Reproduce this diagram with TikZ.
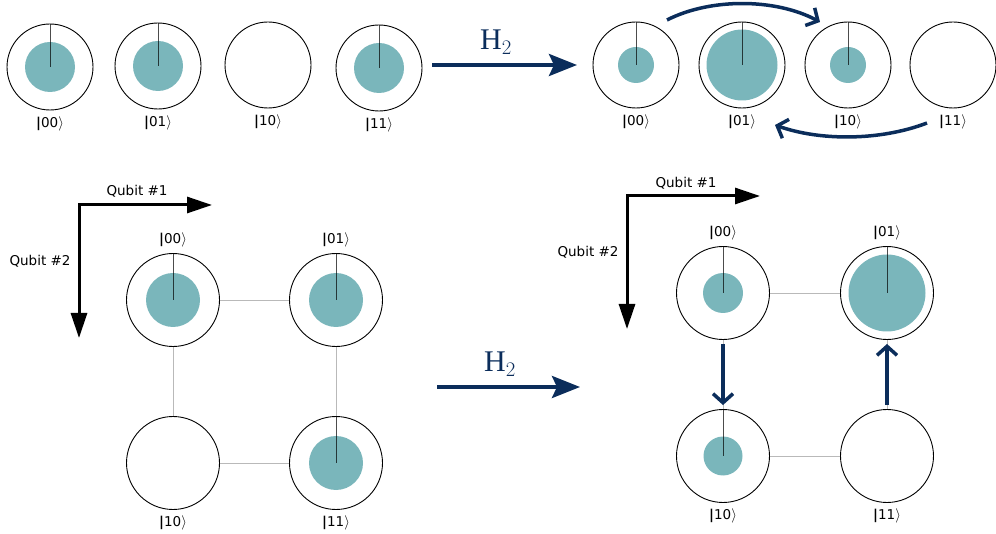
\documentclass[tikz,border=0pt]{standalone}
\usepackage{fontspec}
\setmainfont{DejaVu Sans}
\newfontfamily\gatefont{Liberation Serif}
\usepackage{xcolor}
\usetikzlibrary{arrows.meta, positioning, calc}

\definecolor{ampteal}{HTML}{7AB6BB}
\definecolor{gatenavy}{HTML}{0B2D5B}
\newcommand{\ketlbl}[1]{\textbf{|}#1\ensuremath{\rangle}}

\begin{document}
\begin{tikzpicture}[x=1pt, y=1pt,
    qstate/.style={circle, draw, line width=0.9pt, minimum size=86pt, inner sep=0pt},
    qbig/.style={qstate, minimum size=93pt},
    amp/.style={fill=ampteal},
    needle/.style={black, line width=0.9pt, draw opacity=0.7},
    ket/.style={font=\fontsize{13.5}{16}\selectfont, inner sep=0pt},
    link/.style={gray!55, line width=0.9pt},
    gate/.style={-{Stealth[length=28pt, width=22pt, inset=5pt]}, line width=4pt, gatenavy},
    glbl/.style={font=\gatefont\fontsize{30}{36}\selectfont, gatenavy},
    swap/.style={-{Straight Barb[length=9pt, width=20pt]}, line width=3.5pt, gatenavy},
    axis/.style={{Triangle[length=25pt, width=16pt]}-{Triangle[length=25pt, width=16pt]},
        line width=3pt},
    albl/.style={font=\fontsize{13.5}{16}\selectfont},
]
\useasboundingbox (0,0) rectangle (996,533);

% ---- Top row: before H2 ----
\node[qstate] (tl00) at (50,466) {};
\node[qstate] (tl01) at (158,467) {};
\node[qstate] (tl10) at (268,468) {};
\node[qstate] (tl11) at (379,465) {};
\fill[amp] (tl00.center) circle (25);
\fill[amp] (tl01.center) circle (25);
\fill[amp] (tl11.center) circle (25);
\draw[needle] (tl00.north) -- (tl00.center);
\draw[needle] (tl01.north) -- (tl01.center);
\draw[needle] (tl11.north) -- (tl11.center);
\node[ket, below=6pt of tl00] {\ketlbl{00}};
\node[ket, below=6pt of tl01] {\ketlbl{01}};
\node[ket, below=6pt of tl10] {\ketlbl{10}};
\node[ket, below=6pt of tl11] {\ketlbl{11}};

% gate
\coordinate (ga0) at (432,468);
\coordinate (ga1) at (577,468);
\draw[gate] (ga0) -- (ga1);
\node[glbl] (gl1) at (496,491) {H$_2$};

% ---- Top row: after H2 ----
\node[qstate] (tr00) at (636,468) {};
\node[qstate] (tr01) at (742,468) {};
\node[qstate] (tr10) at (848,468) {};
\node[qstate] (tr11) at (953,468) {};
\fill[amp] (tr00.center) circle (18);
\fill[amp] (tr01.center) circle (35.5);
\fill[amp] (tr10.center) circle (18);
\draw[needle] (tr00.north) -- (tr00.center);
\draw[needle] (tr01.north) -- (tr01.center);
\draw[needle] (tr10.north) -- (tr10.center);
\node[ket, below=6pt of tr00] {\ketlbl{00}};
\node[ket, below=6pt of tr01] {\ketlbl{01}};
\node[ket, below=6pt of tr10] {\ketlbl{10}};
\node[ket, below=6pt of tr11] {\ketlbl{11}};

% swaps between states
\coordinate (swa) at ($(tr00.center)+(31,45)$);
\coordinate (swb) at ($(tr10.center)+(-28,43)$);
\coordinate (swc) at ($(tr11.center)+(-26,-58)$);
\coordinate (swd) at ($(tr01.center)+(33,-60)$);
\draw[swap] (swa) .. controls +(43,22) and +(-45,24) .. (swb);
\draw[swap] (swc) .. controls +(-47,-18) and +(45,-16) .. (swd);

% ---- Bottom left: grid before H2 ----
\coordinate (ax0) at (79,328);
\coordinate (ax1) at (212,328);
\coordinate (ax2) at (79,195);
\draw[axis] (ax1) -- (ax0) -- (ax2);
\node[albl] (qa1) at (137,342) {Qubit \#1};
\node[albl] (qa2) at (40,272) {Qubit \#2};

\node[qbig] (bl00) at (173,233) {};
\node[qbig] (bl01) at (336,233) {};
\node[qbig] (bl10) at (173,70) {};
\node[qbig] (bl11) at (336,70) {};
\draw[link] (bl00) -- (bl01);
\draw[link] (bl10) -- (bl11);
\draw[link] (bl00) -- (bl10);
\draw[link] (bl01) -- (bl11);
\fill[amp] (bl00.center) circle (27);
\fill[amp] (bl01.center) circle (27);
\fill[amp] (bl11.center) circle (27);
\draw[needle] (bl00.north) -- (bl00.center);
\draw[needle] (bl01.north) -- (bl01.center);
\draw[needle] (bl11.north) -- (bl11.center);
\node[ket, above=6pt of bl00] {\ketlbl{00}};
\node[ket, above=6pt of bl01] {\ketlbl{01}};
\node[ket, below=6pt of bl10] {\ketlbl{10}};
\node[ket, below=6pt of bl11] {\ketlbl{11}};

% gate
\coordinate (gb0) at (437,146);
\coordinate (gb1) at (580,146);
\draw[gate] (gb0) -- (gb1);
\node[glbl] (gl2) at (500,169) {H$_2$};

% ---- Bottom right: grid after H2 ----
\coordinate (bx0) at (627,337);
\coordinate (bx1) at (760,337);
\coordinate (bx2) at (627,204);
\draw[axis] (bx1) -- (bx0) -- (bx2);
\node[albl] (qb1) at (686,350) {Qubit \#1};
\node[albl] (qb2) at (588,281) {Qubit \#2};

\node[qbig] (br00) at (723,240) {};
\node[qbig] (br01) at (887,240) {};
\node[qbig] (br10) at (723,77) {};
\node[qbig] (br11) at (887,77) {};
\draw[link] (br00) -- (br01);
\draw[link] (br10) -- (br11);
\draw[link] (br00) -- (br10);
\draw[link] (br01) -- (br11);
\fill[amp] (br00.center) circle (20);
\fill[amp] (br01.center) circle (38.5);
\fill[amp] (br10.center) circle (19.5);
\draw[needle] (br00.north) -- (br00.center);
\draw[needle] (br01.north) -- (br01.center);
\draw[needle] (br10.north) -- (br10.center);
\node[ket, above=6pt of br00] {\ketlbl{00}};
\node[ket, above=6pt of br01] {\ketlbl{01}};
\node[ket, below=6pt of br10] {\ketlbl{10}};
\node[ket, below=6pt of br11] {\ketlbl{11}};

% moves between states
\draw[swap, shorten <=4pt, shorten >=4pt] (br00) -- (br10);
\draw[swap, shorten <=4pt, shorten >=4pt] (br11) -- (br01);

\end{tikzpicture}
\end{document}
